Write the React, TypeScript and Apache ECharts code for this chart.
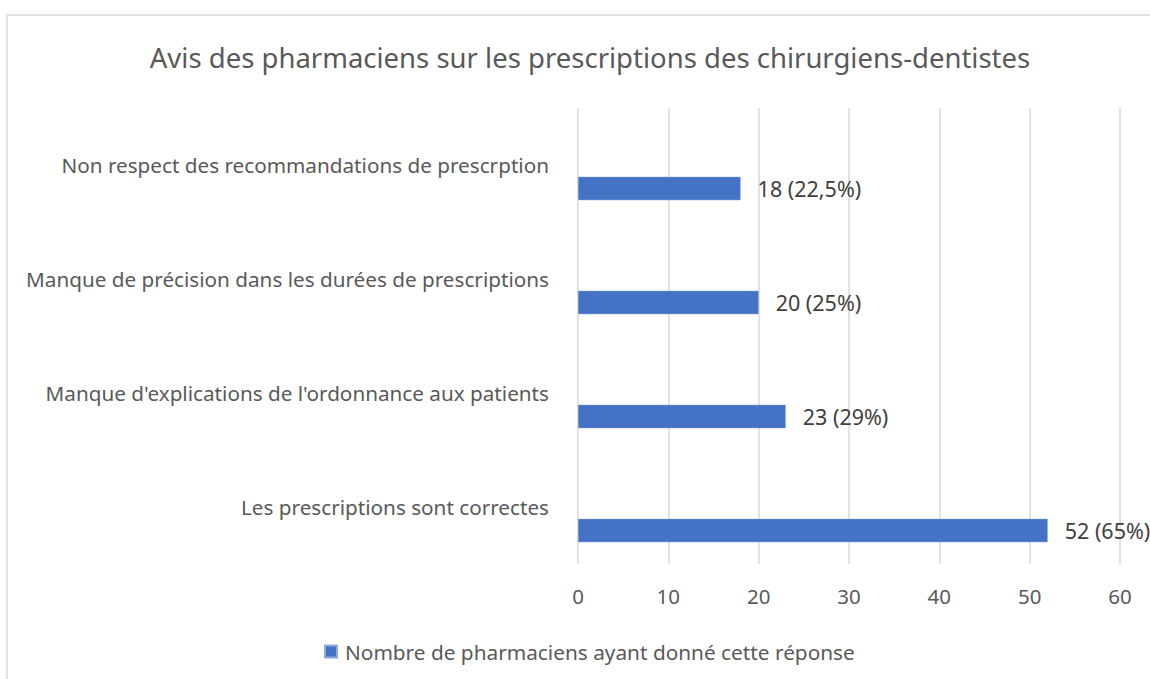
import React, { useEffect, useRef } from "react";
import * as echarts from "echarts";

const categories = [
  "Non respect des recommandations de prescrption",
  "Manque de précision dans les durées de prescriptions",
  "Manque d'explications de l'ordonnance aux patients",
  "Les prescriptions sont correctes",
];
const counts = [18, 20, 23, 52];
const percents = ["22,5%", "25%", "29%", "65%"];
const seriesName = "Nombre de pharmaciens ayant donné cette réponse";
const title = "Avis des pharmaciens sur les prescriptions des chirurgiens-dentistes";
const xTicks = { min: 0, max: 60, interval: 10 };

const FONT = "'Noto Sans', 'Open Sans', sans-serif";

export default function App() {
  const ref = useRef<HTMLDivElement>(null);
  useEffect(() => {
    if (!ref.current) return;
    const chart = echarts.init(ref.current, undefined, { renderer: "svg" });
    chart.setOption({
      animation: false,
      backgroundColor: "#ffffff",
      textStyle: { fontFamily: FONT },
      title: {
        text: title,
        left: 585,
        textAlign: "center",
        top: 38,
        textStyle: { fontFamily: FONT, fontSize: 27.5, fontWeight: "normal", color: "#595959" },
      },
      graphic: [
        {
          type: "rect",
          shape: { x: 7, y: 15, width: 1300, height: 800 },
          style: { fill: "none", stroke: "#d9d9d9", lineWidth: 1.5 },
          silent: true,
        },
      ],
      legend: {
        data: [seriesName],
        left: 319,
        top: 636,
        icon: "rect",
        itemWidth: 12,
        itemHeight: 12,
        textStyle: { fontFamily: FONT, fontSize: 20.8, color: "#595959", padding: [0, 0, 0, 3] },
      },
      grid: { left: 578, right: 30, top: 108, bottom: 115, containLabel: false },
      xAxis: {
        type: "value",
        min: xTicks.min,
        max: xTicks.max,
        interval: xTicks.interval,
        axisLine: { show: false },
        axisTick: { show: false },
        axisLabel: { fontFamily: FONT, fontSize: 20.5, color: "#595959", margin: 21 },
        splitLine: { lineStyle: { color: "#d9d9d9", width: 1.5 } },
      },
      yAxis: {
        type: "category",
        data: categories,
        inverse: true,
        axisLine: { show: false },
        axisTick: { show: false },
        splitLine: { show: false },
        axisLabel: { fontFamily: FONT, fontSize: 20.7, color: "#595959", margin: 29 },
      },
      series: [
        {
          name: "_spacer",
          type: "bar",
          data: categories.map(() => null),
          barWidth: 23.5,
          barGap: "100%",
          silent: true,
        },
        {
          name: seriesName,
          type: "bar",
          data: counts,
          barWidth: 23.5,
          barGap: "100%",
          itemStyle: { color: "#4472c4", borderColor: "#8faadc", borderWidth: 0.5 },
          label: {
            show: true,
            position: "right",
            distance: 17,
            fontFamily: FONT,
            fontSize: 21.5,
            color: "#404040",
            formatter: (p: any) => `${counts[p.dataIndex]} (${percents[p.dataIndex]})`,
          },
        },
      ],
    });
    return () => chart.dispose();
  }, []);
  return (
    <div
      ref={ref}
      style={{ position: "fixed", left: 0, top: 0, width: 1150, height: 679 }}
    />
  );
}
